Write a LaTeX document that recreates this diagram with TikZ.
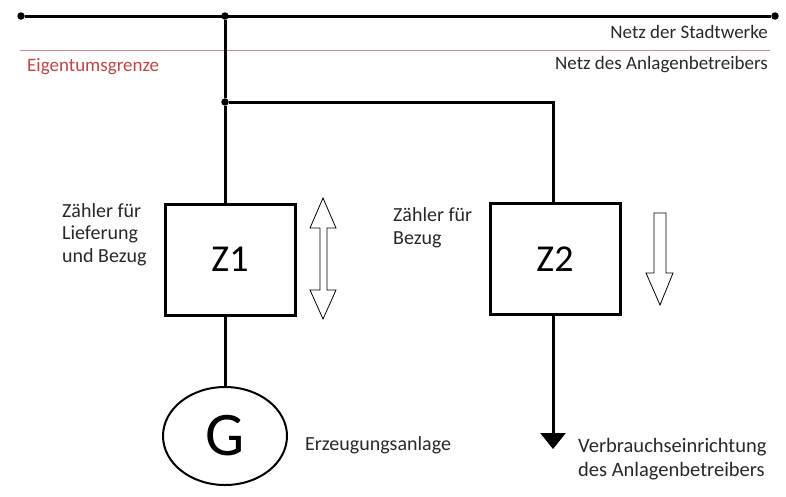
\documentclass[tikz,border=0pt]{standalone}
\usepackage{fontspec}
\setmainfont{Carlito}
\usetikzlibrary{shapes.geometric,arrows.meta}
\definecolor{grenz}{RGB}{192,70,70}
\definecolor{grenzline}{RGB}{200,140,140}
\definecolor{txt}{RGB}{40,40,40}
\begin{document}
\begin{tikzpicture}[x=1pt,y=-1pt,
  wire/.style={line width=3pt},
  meter/.style={draw,line width=3pt,minimum width=130pt,minimum height=111pt,inner sep=0pt,font=\fontsize{38}{38}\selectfont},
  lbl/.style={font=\fontsize{20}{22.5}\selectfont,text=txt,inner sep=0pt},
  toplbl/.style={font=\fontsize{19}{22}\selectfont,text=txt,inner sep=0pt},
  dot/.style={circle,fill,inner sep=0pt,minimum size=7.5pt},
  hollow/.style={draw,line width=0.8pt,fill=white}]
\useasboundingbox (0,0) rectangle (786,496);
% top grid line
\node[dot] (L) at (21,16) {};
\node[dot] (R) at (775,16) {};
\node[dot] (J1) at (225,16) {};
\draw[wire] (L) -- (R);
% ownership border
\coordinate (BL) at (20,50);
\coordinate (BR) at (770,50);
\draw[grenzline,line width=1pt] (BL) -- (BR);
\node[toplbl,text=grenz,anchor=base west] (eg) at (27,71) {Eigentumsgrenze};
\node[toplbl,anchor=base east] (nds) at (768,38) {Netz der Stadtwerke};
\node[toplbl,anchor=base east] (nda) at (768,69) {Netz des Anlagenbetreibers};
% branch
\node[dot] (J2) at (225,102) {};
\coordinate (C2) at (553,102);
% meters
\node[meter] (Z1) at (230,259.5) {Z1};
\node[meter] (Z2) at (555,259) {Z2};
\draw[wire] (J1) -- (J2) -- (J2 |- Z1.north);
\draw[wire] (J2) -- (C2) -- (C2 |- Z2.north);
% generator
\node[ellipse,draw,line width=2pt,minimum width=124pt,minimum height=98pt,inner sep=0pt,font=\fontsize{62}{62}\selectfont] (G) at (225,436) {G};
\draw[wire] (Z1.south -| J2) -- (G.north);
\node[lbl,anchor=base west] (ea) at (305,450) {Erzeugungsanlage};
% consumer arrow
\coordinate (T) at (553,449);
\draw[wire,-{Triangle[width=25pt,length=16pt]}] (Z2.south -| C2) -- (T);
\node[lbl,font=\fontsize{20.5}{23.5}\selectfont,anchor=base west,align=left] (ve) at (578,476) {Verbrauchseinrichtung\\des Anlagenbetreibers};
% meter labels
\node[lbl,anchor=base west,align=left] (l1) at (62,262) {Zähler für\\Lieferung\\und Bezug};
\node[lbl,anchor=base west,align=left] (l2) at (393,244) {Zähler für\\Bezug};
% double hollow arrow
\draw[hollow] (323,198) -- (336,228) -- (327,228) -- (327,290) -- (336,290) -- (323,319)
  -- (310,290) -- (320,290) -- (320,228) -- (310,228) -- cycle;
% single hollow down arrow
\draw[hollow] (654,213) -- (666,213) -- (666,273) -- (673,273) -- (660,305) -- (646,273) -- (654,273) -- cycle;
\end{tikzpicture}
\end{document}
